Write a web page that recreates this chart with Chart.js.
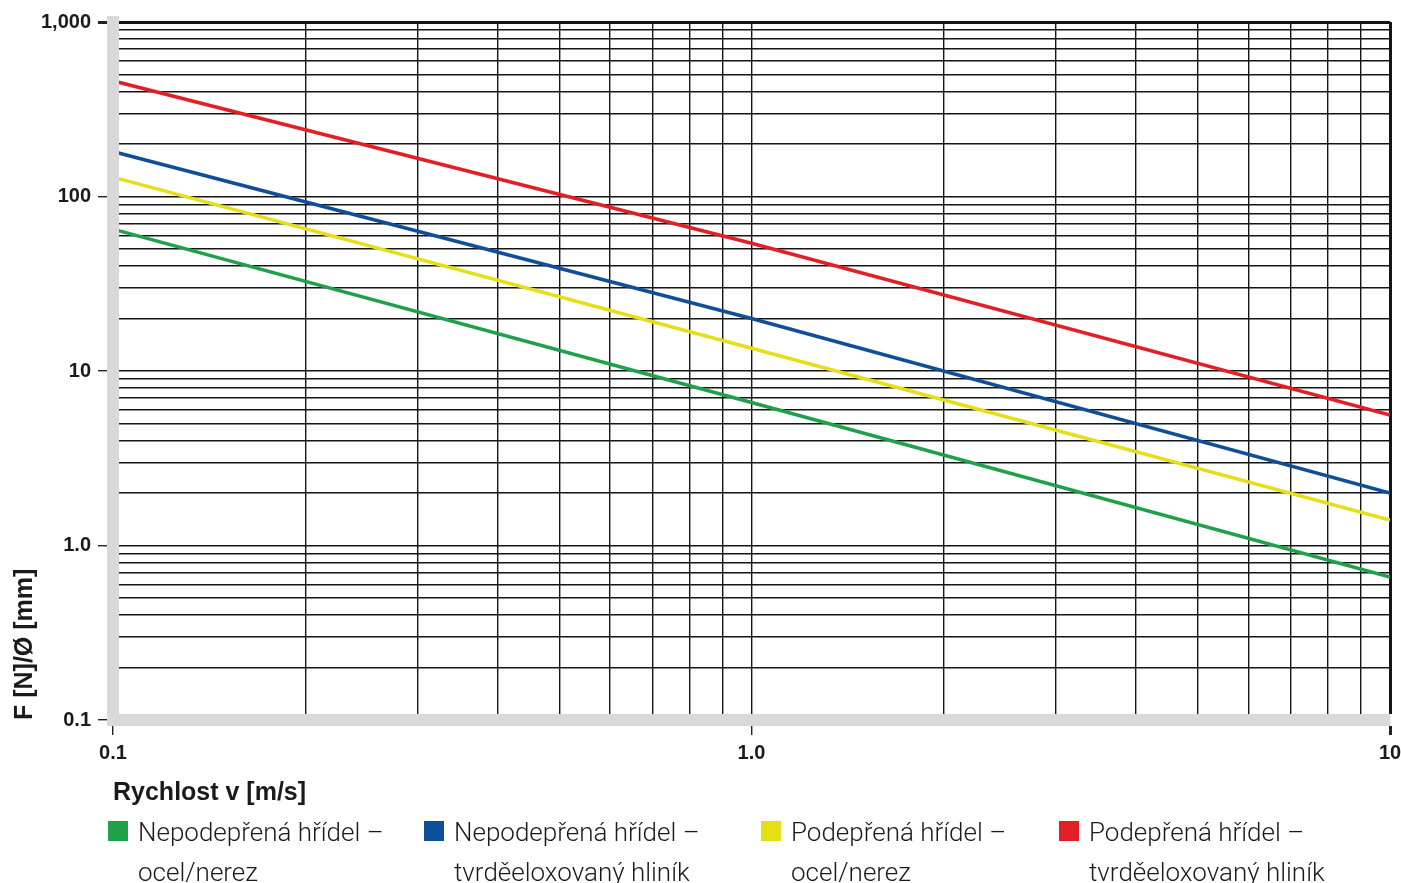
<!DOCTYPE html>
<html>
<head>
<meta charset="utf-8">
<script src="https://cdn.jsdelivr.net/npm/chart.js@4/dist/chart.umd.min.js"></script>
<style>
  html, body { margin: 0; padding: 0; background: #fff; }
  #wrap { position: relative; width: 1401px; height: 883px; overflow: hidden; }
  #c { position: absolute; left: 0; top: 0; }
  .item { position: absolute; top: 812px; font-family: Roboto, "Liberation Sans", sans-serif; font-weight: 300; font-size: 26px; line-height: 40px; color: #1a1a1a; white-space: nowrap; }
  .sw { position: absolute; top: 9px; width: 20px; height: 20px; }
  .txt { position: absolute; left: 30px; top: 0; }
</style>
</head>
<body>
<div id="wrap">
  <canvas id="c" width="1401" height="883"></canvas>
  <div id="legend"></div>
</div>
<script>
// ---- data ----
const speeds = [0.1, 1.0, 10];                       // x values, m/s
const unsupportedSteel = [65, 6.6, 0.66];             // green
const unsupportedAlu   = [181, 20, 2.0];              // blue
const supportedSteel   = [129, 13.5, 1.4];            // yellow
const supportedAlu     = [460, 54, 5.6];              // red

const seriesNames = [
  ['Nepodepřená hřídel –', 'ocel/nerez'],
  ['Nepodepřená hřídel –', 'tvrděeloxovaný hliník'],
  ['Podepřená hřídel –', 'ocel/nerez'],
  ['Podepřená hřídel –', 'tvrděeloxovaný hliník']
];
const seriesColors = ['#21a04b', '#0f4e98', '#e6df17', '#e21f26'];

const xGridValues = [0.1,0.2,0.3,0.4,0.5,0.6,0.7,0.8,0.9,1,2,3,4,5,6,7,8,9,10];
const yGridValues = [0.1,0.2,0.3,0.4,0.5,0.6,0.7,0.8,0.9,
                     1,2,3,4,5,6,7,8,9,
                     10,20,30,40,50,60,70,80,90,
                     100,200,300,400,500,600,700,800,900,1000];
const xLabelValues = [0.1, 1, 10];
const xLabelTexts  = ['0.1', '1.0', '10'];
const yLabelValues = [0.1, 1, 10, 100, 1000];
const yLabelTexts  = ['0.1', '1.0', '10', '100', '1,000'];

const xTitle = 'Rychlost v [m/s]';
const yTitle = 'F [N]/Ø [mm]';

// ---- helpers ----
const near = (a, b) => Math.abs(Math.log10(a) - Math.log10(b)) < 1e-6;
const isDecade = v => Math.abs(Math.log10(v) - Math.round(Math.log10(v))) < 1e-6;
function labelFor(v, vals, texts) {
  const i = vals.findIndex(x => near(x, v));
  return i >= 0 ? texts[i] : '';
}

const dataArrays = [unsupportedSteel, unsupportedAlu, supportedSteel, supportedAlu];
const datasets = dataArrays.map((arr, i) => ({
  label: seriesNames[i].join(' '),
  data: speeds.map((x, j) => ({ x: x, y: arr[j] })),
  borderColor: seriesColors[i],
  backgroundColor: seriesColors[i],
  borderWidth: 3.5,
  pointRadius: 0,
  tension: 0,
  clip: { left: -6, top: 0, right: 0, bottom: -6 }
})).reverse();

const gridBlack = '#151515';
const borderGray = '#d9d9db';
const titleFont = { family: '"Liberation Sans", Arial, sans-serif', weight: 'bold', size: 25 };
const tickFont  = { family: '"Liberation Sans", Arial, sans-serif', weight: 'bold', size: 20 };

new Chart(document.getElementById('c'), {
  type: 'line',
  data: { datasets },
  options: {
    responsive: false,
    animation: false,
    devicePixelRatio: 1,
    layout: { padding: { left: 0, top: 22, right: 11, bottom: 75 } },
    plugins: { legend: { display: false }, tooltip: { enabled: false } },
    scales: {
      x: {
        type: 'logarithmic',
        min: 0.1, max: 10,
        afterBuildTicks: s => { s.ticks = xGridValues.map(v => ({ value: v })); },
        afterFit: s => { s.height = 88; s.paddingLeft = 0; s.paddingRight = 0; },
        ticks: {
          autoSkip: false, maxRotation: 0, padding: 6,
          color: '#1a1a1a', font: tickFont,
          callback: v => labelFor(v, xLabelValues, xLabelTexts)
        },
        grid: {
          color: c => (c.tick && near(c.tick.value, 0.1)) ? 'rgba(0,0,0,0)' : gridBlack,
          lineWidth: c => (c.tick && near(c.tick.value, 10)) ? 3 : 1.4,
          tickColor: c => (c.tick && isDecade(c.tick.value)) ? '#222' : 'rgba(0,0,0,0)',
          tickLength: 15,
          drawTicks: true
        },
        border: { display: true, color: borderGray, width: 12 },
        title: {
          display: true, text: xTitle, align: 'start',
          color: '#1a1a1a', font: titleFont, padding: { top: 0, bottom: 0 }
        }
      },
      y: {
        type: 'logarithmic',
        min: 0.1, max: 1000,
        afterBuildTicks: s => { s.ticks = yGridValues.map(v => ({ value: v })); },
        afterFit: s => { s.width = 113; s.paddingTop = 0; s.paddingBottom = 0; },
        ticks: {
          autoSkip: false, padding: 7,
          color: '#1a1a1a', font: tickFont,
          callback: v => labelFor(v, yLabelValues, yLabelTexts)
        },
        grid: {
          color: c => (c.tick && near(c.tick.value, 0.1)) ? 'rgba(0,0,0,0)' : gridBlack,
          lineWidth: c => (c.tick && near(c.tick.value, 1000)) ? 3 : 1.4,
          tickColor: c => (c.tick && isDecade(c.tick.value)) ? '#222' : 'rgba(0,0,0,0)',
          tickLength: 15,
          drawTicks: true
        },
        border: { display: true, color: borderGray, width: 12 },
        title: {
          display: true, text: yTitle, align: 'start',
          color: '#1a1a1a', font: titleFont, padding: { top: 10, bottom: 0 }
        }
      }
    }
  }
});

// ---- HTML legend (two-line labels) ----
const legendLeft = [108, 424, 761, 1059];
const legend = document.getElementById('legend');
seriesNames.forEach((lines, i) => {
  const d = document.createElement('div');
  d.className = 'item';
  d.style.left = legendLeft[i] + 'px';
  d.innerHTML = '<div class="sw" style="background:' + seriesColors[i] + '"></div>' +
    '<div class="txt">' + lines.join('<br>') + '</div>';
  legend.appendChild(d);
});
</script>
</body>
</html>
